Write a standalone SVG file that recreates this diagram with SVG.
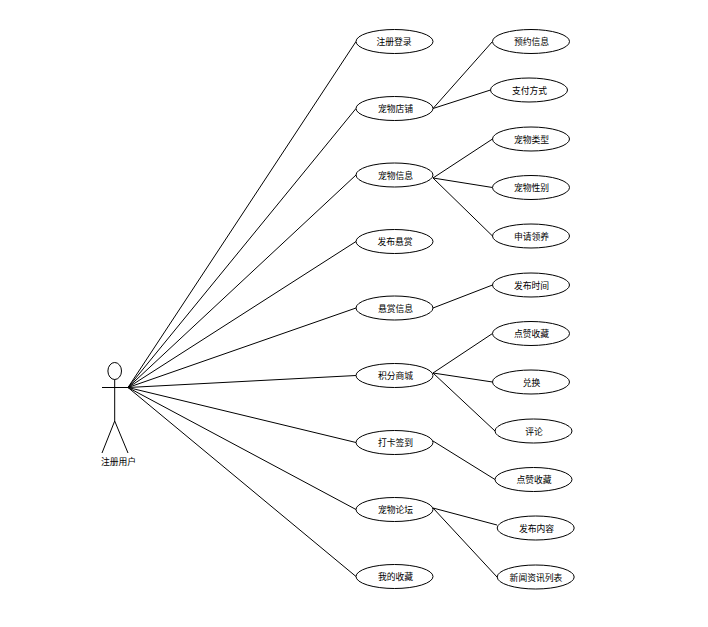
<svg xmlns="http://www.w3.org/2000/svg" width="708" height="627" viewBox="0 0 708 627">
<style>
.c line,.a line{stroke:#000;stroke-width:1;fill:none}
.n ellipse,.a ellipse{fill:#fff;stroke:#000;stroke-width:1}
text{font-family:"Noto Sans CJK SC","Liberation Sans",sans-serif;font-size:8.8px;fill:#000;text-anchor:middle}
</style>
<rect width="708" height="627" fill="#fff"/>
<g id="connectors" class="c">
<line x1="128" y1="387.5" x2="356" y2="41.5"/>
<line x1="128" y1="387.5" x2="356" y2="108.5"/>
<line x1="128" y1="387.5" x2="356" y2="175"/>
<line x1="128" y1="387.5" x2="356" y2="241.5"/>
<line x1="128" y1="387.5" x2="356" y2="308"/>
<line x1="128" y1="387.5" x2="356" y2="375.5"/>
<line x1="128" y1="387.5" x2="356" y2="442.5"/>
<line x1="128" y1="387.5" x2="356" y2="509.5"/>
<line x1="128" y1="387.5" x2="356" y2="576.5"/>
<line x1="433" y1="108.5" x2="492.5" y2="41.5"/>
<line x1="433" y1="108.5" x2="490.5" y2="90"/>
<line x1="433" y1="178" x2="492.5" y2="139"/>
<line x1="433" y1="178" x2="492.5" y2="187.5"/>
<line x1="433" y1="178" x2="492.5" y2="236"/>
<line x1="433" y1="308" x2="492.5" y2="285"/>
<line x1="433" y1="373" x2="492.5" y2="333.5"/>
<line x1="433" y1="373" x2="492.5" y2="382"/>
<line x1="433" y1="373" x2="495" y2="431"/>
<line x1="433" y1="441" x2="495" y2="479.5"/>
<line x1="433" y1="508" x2="497" y2="525"/>
<line x1="433" y1="508" x2="497" y2="577"/>
</g>
<g id="actor" class="a">
<ellipse cx="114.7" cy="371" rx="6.8" ry="8.5"/>
<line x1="114.7" y1="379.5" x2="114.7" y2="421"/>
<line x1="102" y1="387.5" x2="128" y2="387.5"/>
<line x1="114.7" y1="421" x2="102" y2="453"/>
<line x1="114.7" y1="421" x2="128" y2="453"/>
<text x="118.5" y="464.5">注册用户</text>
</g>
<g id="n1" class="n"><ellipse cx="394.5" cy="41.5" rx="38.5" ry="12"/><text x="394" y="45">注册登录</text></g>
<g id="n2" class="n"><ellipse cx="394.5" cy="108.5" rx="38.5" ry="12"/><text x="395.5" y="111.5">宠物店铺</text></g>
<g id="n3" class="n"><ellipse cx="394.5" cy="175" rx="38.5" ry="12"/><text x="395.5" y="178.5">宠物信息</text></g>
<g id="n4" class="n"><ellipse cx="394.5" cy="241.5" rx="38.5" ry="12"/><text x="395" y="245">发布悬赏</text></g>
<g id="n5" class="n"><ellipse cx="394.5" cy="308" rx="38.5" ry="12"/><text x="395.5" y="311.5">悬赏信息</text></g>
<g id="n6" class="n"><ellipse cx="394.5" cy="375.5" rx="38.5" ry="12"/><text x="395.5" y="379">积分商城</text></g>
<g id="n7" class="n"><ellipse cx="394.5" cy="442.5" rx="38.5" ry="12"/><text x="395.5" y="446">打卡签到</text></g>
<g id="n8" class="n"><ellipse cx="394.5" cy="509.5" rx="38.5" ry="12"/><text x="395.5" y="513">宠物论坛</text></g>
<g id="n9" class="n"><ellipse cx="394.5" cy="576.5" rx="38.5" ry="12"/><text x="395.5" y="580">我的收藏</text></g>
<g id="r1" class="n"><ellipse cx="531" cy="41.5" rx="38.5" ry="12"/><text x="531.5" y="45">预约信息</text></g>
<g id="r2" class="n"><ellipse cx="529" cy="90" rx="38.5" ry="12"/><text x="529.5" y="93.5">支付方式</text></g>
<g id="r3" class="n"><ellipse cx="531" cy="139" rx="38.5" ry="12"/><text x="531.5" y="142.5">宠物类型</text></g>
<g id="r4" class="n"><ellipse cx="531" cy="187.5" rx="38.5" ry="12"/><text x="531.5" y="191">宠物性别</text></g>
<g id="r5" class="n"><ellipse cx="531" cy="236" rx="38.5" ry="12"/><text x="531.5" y="239.5">申请领养</text></g>
<g id="r6" class="n"><ellipse cx="531" cy="285" rx="38.5" ry="12"/><text x="531.5" y="288.5">发布时间</text></g>
<g id="r7" class="n"><ellipse cx="531" cy="333.5" rx="38.5" ry="12"/><text x="531.5" y="337">点赞收藏</text></g>
<g id="r8" class="n"><ellipse cx="531" cy="382" rx="38.5" ry="12"/><text x="531.5" y="385.5">兑换</text></g>
<g id="r9" class="n"><ellipse cx="533.5" cy="431" rx="38.5" ry="12"/><text x="534" y="434.5">评论</text></g>
<g id="r10" class="n"><ellipse cx="533.5" cy="479.5" rx="38.5" ry="12"/><text x="534" y="483">点赞收藏</text></g>
<g id="r11" class="n"><ellipse cx="535.7" cy="528" rx="38.5" ry="12"/><text x="536.5" y="531.5">发布内容</text></g>
<g id="r12" class="n"><ellipse cx="535.7" cy="577" rx="38.5" ry="12"/><text x="536" y="580.5">新闻资讯列表</text></g>
</svg>
